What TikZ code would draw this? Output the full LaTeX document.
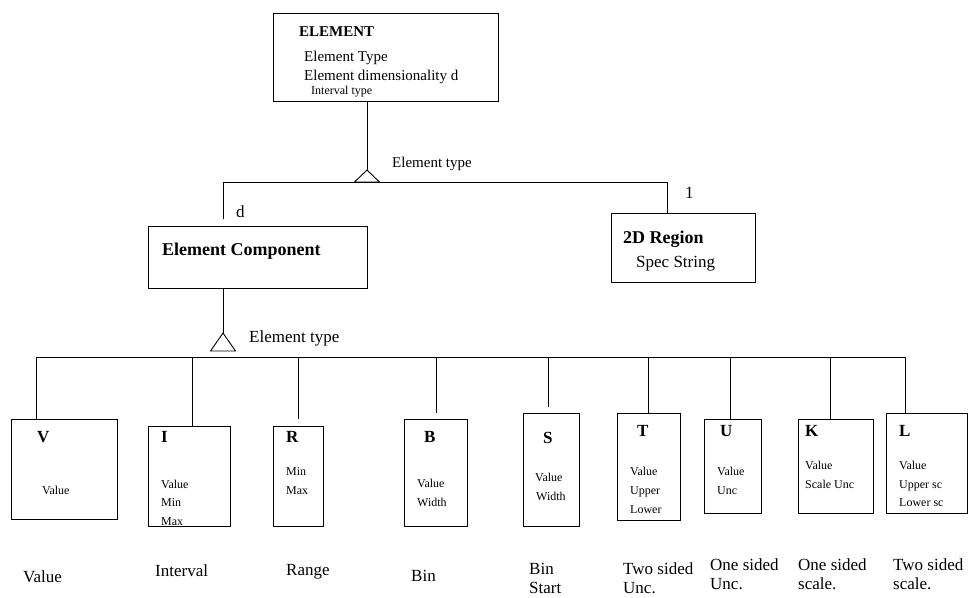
\documentclass[tikz,border=0pt]{standalone}
\usepackage{fontspec}
\setmainfont{Liberation Serif}
\tikzset{
    box/.style={rectangle, anchor=north west, draw=black, line width=0.9pt, inner sep=0pt},
    link/.style={draw=black, line width=0.9pt},
    head/.style={anchor=west, inner sep=0pt, text height=0.7em, text depth=0.2em,
        font=\bfseries\fontsize{17}{20}\selectfont},
    attr/.style={anchor=west, inner sep=0pt, text height=0.7em, text depth=0.2em,
        font=\fontsize{12}{14}\selectfont},
    plain/.style={anchor=west, inner sep=0pt, text height=0.7em, text depth=0.2em,
        font=\fontsize{15}{18}\selectfont},
    kind/.style={anchor=north west, inner sep=0pt, align=left,
        font=\fontsize{17}{19}\selectfont},
}
\begin{document}
\begin{tikzpicture}[x=1pt, y=-1pt]
        \useasboundingbox (0,0) rectangle (968,597);

        \node (elem) at(273,13) [box, minimum width=225pt, minimum height=88pt] {};
        \node (elemname) at(299,34) [head, font=\bfseries\fontsize{15}{18}\selectfont] {ELEMENT};
        \node (elemtype) at(304,59) [plain] {Element Type};
        \node (elemdim) at(304,78) [plain] {Element dimensionality d};
        \node (elemint) at(311,92) [attr] {Interval type};

        \node (comp) at(148,226) [box, minimum width=219pt, minimum height=62pt] {};
        \node (compname) at(162,253) [head, font=\bfseries\fontsize{18}{21}\selectfont] {Element Component};

        \node (region) at(611,213) [box, minimum width=144pt, minimum height=69pt] {};
        \node (regionname) at(623,241) [head, font=\bfseries\fontsize{18}{21}\selectfont] {2D Region};
        \node (regionspec) at(636,265) [plain, font=\fontsize{17}{20}\selectfont] {Spec String};

        \coordinate (tri1) at(367,170);
        \coordinate (bus1w) at(223,182);
        \coordinate (bus1e) at(667,182);
        \coordinate (dropd) at(223,219);
        \draw[link] (elem.south -| tri1) -- (tri1);
        \draw[link] (tri1) -- ++(-12.5,12) -- ++(25,0) -- cycle;
        \draw[link] (dropd) -- (bus1w) -- (bus1e) -- (region.north -| bus1e);
        \node (kind1) at(392,165) [plain] {Element type};
        \node (multd) at(236,215) [plain, font=\fontsize{17}{20}\selectfont] {d};
        \node (mult1) at(685,196) [plain, font=\fontsize{17}{20}\selectfont] {1};

        \coordinate (tri2) at(223,333);
        \coordinate (bus2w) at(36,357);
        \coordinate (bus2e) at(905,357);
        \draw[link] (comp.south -| tri2) -- (tri2);
        \draw[link] (tri2) -- ++(-12.5,18) -- ++(25,0) -- cycle;
        \draw[link] (bus2w) -- (bus2e);
        \node (kind2) at(249,340) [plain, font=\fontsize{17}{20}\selectfont] {Element type};

        \node (V) at(11,419) [box, minimum width=106pt, minimum height=100pt] {};
        \node (I) at(148,426) [box, minimum width=82pt, minimum height=100pt] {};
        \node (R) at(273,426) [box, minimum width=50pt, minimum height=100pt] {};
        \node (B) at(404,419) [box, minimum width=63pt, minimum height=107pt] {};
        \node (S) at(523,413) [box, minimum width=56pt, minimum height=113pt] {};
        \node (T) at(617,413) [box, minimum width=63pt, minimum height=107pt] {};
        \node (U) at(704,419) [box, minimum width=57pt, minimum height=94pt] {};
        \node (K) at(798,419) [box, minimum width=75pt, minimum height=94pt] {};
        \node (L) at(886,413) [box, minimum width=81pt, minimum height=100pt] {};

        \foreach \n/\x/\y in {V/36/419, I/192/426, R/298/419, B/436/413, S/548/407,
                T/648/413, U/730/419, K/830/419, L/905/413} {
            \coordinate (drop\n) at(\x,\y);
            \draw[link] (drop\n |- bus2w) -- (drop\n);
        }

        \node (Vname) at(37,440) [head] {V};
        \node (Vval) at(42,492) [attr] {Value};

        \node (Iname) at(161,440) [head] {I};
        \node (Ival) at(161,486) [attr] {Value};
        \node (Imin) at(161,504) [attr] {Min};
        \node (Imax) at(161,523) [attr] {Max};

        \node (Rname) at(286,440) [head] {R};
        \node (Rmin) at(286,473) [attr] {Min};
        \node (Rmax) at(286,492) [attr] {Max};

        \node (Bname) at(424,440) [head] {B};
        \node (Bval) at(417,485) [attr] {Value};
        \node (Bwid) at(417,504) [attr] {Width};

        \node (Sname) at(543,441) [head] {S};
        \node (Sval) at(535,479) [attr] {Value};
        \node (Swid) at(536,498) [attr] {Width};

        \node (Tname) at(637,434) [head] {T};
        \node (Tval) at(630,473) [attr] {Value};
        \node (Tup) at(630,492) [attr] {Upper};
        \node (Tlow) at(630,511) [attr] {Lower};

        \node (Uname) at(720,434) [head] {U};
        \node (Uval) at(717,473) [attr] {Value};
        \node (Uunc) at(717,492) [attr] {Unc};

        \node (Kname) at(805,434) [head] {K};
        \node (Kval) at(805,467) [attr] {Value};
        \node (Kunc) at(805,486) [attr] {Scale Unc};

        \node (Lname) at(899,434) [head] {L};
        \node (Lval) at(899,467) [attr] {Value};
        \node (Lup) at(899,486) [attr] {Upper sc};
        \node (Llow) at(899,504) [attr] {Lower sc};

        \node (Vkind) at(23,570) [kind] {Value};
        \node (Ikind) at(155,564) [kind] {Interval};
        \node (Rkind) at(286,564) [kind] {Range};
        \node (Bkind) at(411,570) [kind] {Bin};
        \node (Skind) at(529,563) [kind] {Bin\\Start};
        \node (Tkind) at(623,562) [kind] {Two sided\\Unc.};
        \node (Ukind) at(710,558) [kind] {One sided\\Unc.};
        \node (Kkind) at(798,558) [kind] {One sided\\scale.};
        \node (Lkind) at(893,558) [kind] {Two sided\\scale.};
    \end{tikzpicture}
\end{document}
